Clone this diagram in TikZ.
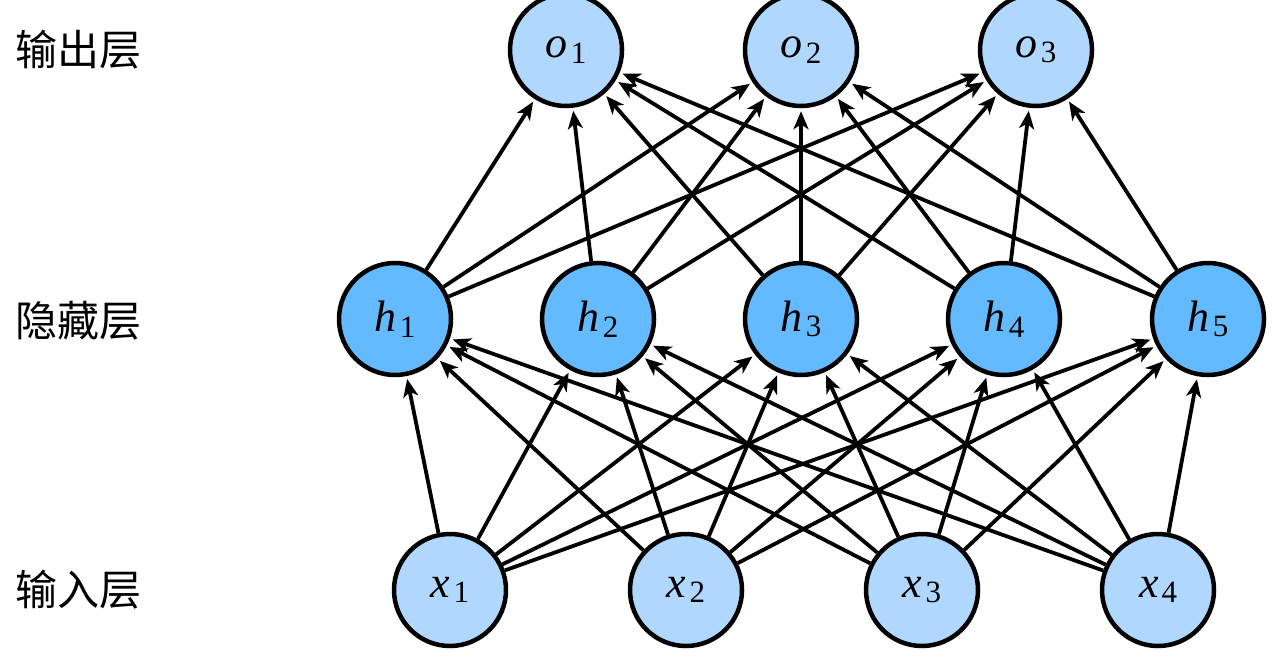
\documentclass[tikz,border=0pt]{standalone}
\usepackage{fontspec}
\setmainfont{Liberation Serif}
\newfontfamily\cjk{Noto Sans CJK SC}
\usetikzlibrary{arrows.meta}
\definecolor{lightblue}{RGB}{176,216,255}
\definecolor{hidblue}{RGB}{100,186,255}
\newcommand{\nlab}[2]{{\fontsize{44}{48}\selectfont\itshape #1}\kern3pt\raisebox{-0.55em}{\fontsize{31}{34}\selectfont #2}}
\begin{document}
\begin{tikzpicture}[x=1pt,y=-1pt,
  neuron/.style={circle,draw=black,line width=4.5pt,minimum size=112pt,inner sep=0pt},
  iolayer/.style={neuron,fill=lightblue},
  hidlayer/.style={neuron,fill=hidblue},
  conn/.style={line width=3.8pt,-{Stealth[length=18pt,width=15pt,inset=5pt]},shorten >=3pt},
  layerlab/.style={anchor=west,font=\cjk\fontsize{42}{46}\selectfont,inner sep=0pt}]
\useasboundingbox (0,0) rectangle (1273,650);
\node[iolayer] (o1) at (566,50) {\nlab{o}{1}};
\node[iolayer] (o2) at (801,50) {\nlab{o}{2}};
\node[iolayer] (o3) at (1036,50) {\nlab{o}{3}};
\node[hidlayer] (h1) at (395,319) {\nlab{h}{1}};
\node[hidlayer] (h2) at (598,319) {\nlab{h}{2}};
\node[hidlayer] (h3) at (801,319) {\nlab{h}{3}};
\node[hidlayer] (h4) at (1004,319) {\nlab{h}{4}};
\node[hidlayer] (h5) at (1208,319) {\nlab{h}{5}};
\node[iolayer] (x1) at (450,590) {\nlab{x}{1}};
\node[iolayer] (x2) at (686,590) {\nlab{x}{2}};
\node[iolayer] (x3) at (922,590) {\nlab{x}{3}};
\node[iolayer] (x4) at (1158,590) {\nlab{x}{4}};
\foreach \i in {1,...,4}{\foreach \j in {1,...,5}{\draw[conn] (x\i) -- (h\j);}}
\foreach \i in {1,...,5}{\foreach \j in {1,...,3}{\draw[conn] (h\i) -- (o\j);}}
\node[layerlab] (l1) at (15,50) {输出层};
\node[layerlab] (l2) at (15,321) {隐藏层};
\node[layerlab] (l3) at (15,590) {输入层};
\end{tikzpicture}
\end{document}
